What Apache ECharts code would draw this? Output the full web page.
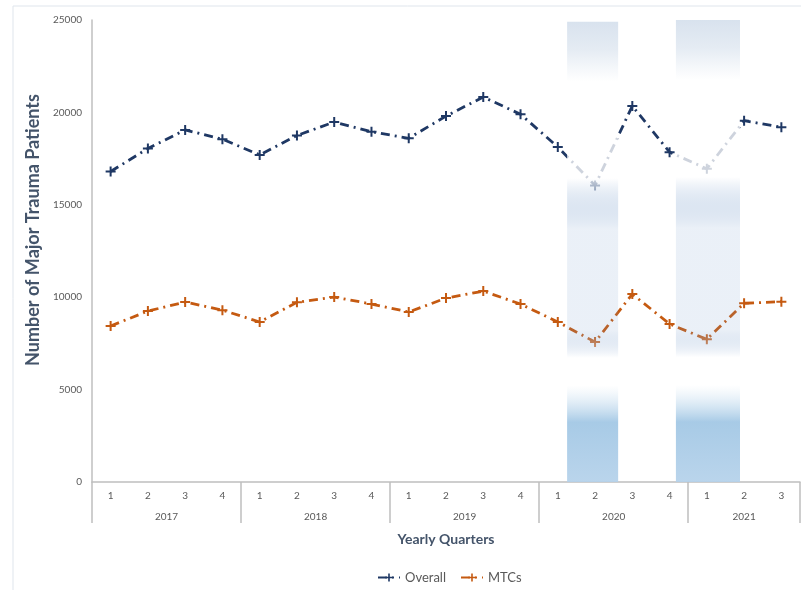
<!DOCTYPE html>
<html>
<head>
<meta charset="utf-8">
<script src="https://cdn.jsdelivr.net/npm/echarts@6/dist/echarts.min.js"></script>
<style>html,body{margin:0;padding:0;background:#fff}#c{width:801px;height:590px}</style>
</head>
<body>
<div id="c"></div>
<script>
// ---- data ----
var quarters = ['1','2','3','4','1','2','3','4','1','2','3','4','1','2','3','4','1','2','3'];
var years = ['2017','2018','2019','2020','2021'];
var quartersPerYear = [4,4,4,4,3];
var overall = [16800,18050,19050,18550,17700,18750,19480,18950,18600,19800,20830,19900,18130,16050,20350,17850,16950,19550,19200];
var mtcs = [8440,9250,9740,9300,8660,9720,10010,9630,9200,9950,10330,9630,8660,7570,10170,8550,7720,9670,9760];
// shaded periods in quarter-index units: [start, end, top value]
var shadedSpans = [[12.75,14.12,24900],[15.67,17.39,25000]];

// ---- derived ----
var boundaries = [0], centers = [];
quartersPerYear.forEach(function(n,i){
  var s = boundaries[boundaries.length-1];
  centers.push(s + n/2);
  boundaries.push(s + n);
});
var total = boundaries[boundaries.length-1];

var FONT = 'Lato, sans-serif';
var AXIS_GRAY = '#bfbfbf';
var LABEL = '#595959';
var plus = 'path://M4,0H6V4H10V6H6V10H4V6H0V4H4Z';

var shadeColor = {
  type:'linear', x:0, y:0, x2:0, y2:1,
  colorStops:[
    {offset:0, color:'rgba(212,223,236,0.9)'},
    {offset:0.06, color:'rgba(224,232,241,0.85)'},
    {offset:0.13, color:'rgba(255,255,255,0.78)'},
    {offset:0.34, color:'rgba(255,255,255,0.78)'},
    {offset:0.45, color:'rgba(110,150,200,0.14)'},
    {offset:0.67, color:'rgba(110,150,200,0.14)'},
    {offset:0.73, color:'rgba(255,255,255,0.6)'},
    {offset:0.79, color:'rgba(255,255,255,0.5)'},
    {offset:0.87, color:'rgba(160,198,228,0.92)'},
    {offset:1, color:'rgba(180,209,234,0.92)'}
  ]
};

var chart = echarts.init(document.getElementById('c'), null, {renderer:'canvas'});
chart.setOption({
  animation:false,
  backgroundColor:'#fff',
  textStyle:{fontFamily:FONT},
  graphic:[{
    type:'rect', silent:true, z:-10,
    shape:{x:13, y:6, width:840, height:640},
    style:{fill:null, stroke:'#dfe5ec', lineWidth:1}
  }],
  grid:{left:92, right:1, top:20, bottom:108},
  legend:{
    data:['Overall','MTCs'], top:566, left:372,
    itemWidth:22, itemHeight:10, itemGap:14,
    textStyle:{color:LABEL, fontSize:13, fontFamily:FONT}
  },
  xAxis:[{
    type:'category', data:quarters, boundaryGap:true,
    axisLine:{show:true, lineStyle:{color:AXIS_GRAY, width:1.5}},
    axisTick:{show:false},
    axisLabel:{color:LABEL, fontSize:10, margin:9, interval:0, fontFamily:FONT},
    splitLine:{show:false}
  },{
    type:'value', min:0, max:total, position:'bottom',
    axisLine:{show:false},
    splitLine:{show:false},
    axisTick:{show:true, customValues:boundaries, length:41, lineStyle:{color:AXIS_GRAY, width:1.5}},
    axisLabel:{show:true, customValues:centers, margin:30, color:LABEL, fontSize:10, fontFamily:FONT,
      formatter:function(v){ var i = centers.indexOf(v); return i>=0 ? years[i] : ''; }},
    name:'Yearly Quarters', nameLocation:'middle', nameGap:50,
    nameTextStyle:{color:'#44546a', fontSize:14, fontWeight:'bold', fontFamily:FONT}
  }],
  yAxis:{
    type:'value', min:0, max:25000, interval:5000,
    axisLine:{show:true, lineStyle:{color:AXIS_GRAY, width:1.5}},
    axisTick:{show:false},
    splitLine:{show:false},
    axisLabel:{color:LABEL, fontSize:10, margin:10, fontFamily:FONT, formatter:function(v){return String(v);}},
    name:'Number of Major Trauma Patients', nameLocation:'middle', nameGap:50,
    nameTextStyle:{color:'#44546a', fontSize:18, fontWeight:'bold', fontFamily:FONT, padding:[0,0,0,42]}
  },
  series:[{
    name:'Overall', type:'line', data:overall, xAxisIndex:0, z:2,
    symbol:plus, symbolSize:10,
    itemStyle:{color:'#1f3864'},
    lineStyle:{color:'#1f3864', width:2.8, type:[9,5,2,5]}
  },{
    name:'MTCs', type:'line', data:mtcs, xAxisIndex:0, z:2,
    symbol:plus, symbolSize:10,
    itemStyle:{color:'#c55a11'},
    lineStyle:{color:'#c55a11', width:2.8, type:[9,5,2,5]}
  },{
    name:'shade', type:'line', data:[], xAxisIndex:1, z:10,
    markArea:{
      silent:true, z:10,
      itemStyle:{color:shadeColor},
      data: shadedSpans.map(function(s){ return [{coord:[s[0], s[2]]},{coord:[s[1], 0]}]; })
    }
  }]
});
</script>
</body>
</html>
